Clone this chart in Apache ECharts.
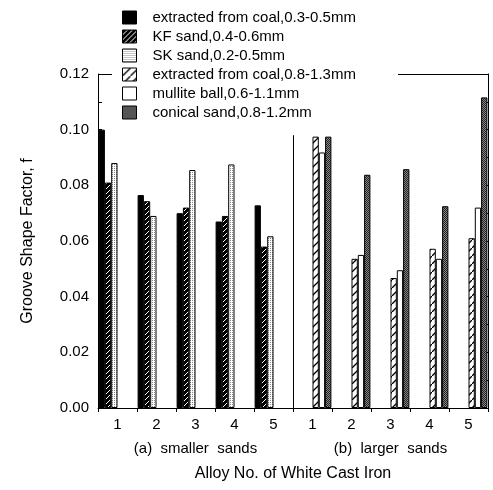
<!DOCTYPE html>
<html>
<head>
<meta charset="utf-8">
<script src="https://cdn.jsdelivr.net/npm/echarts@6/dist/echarts.min.js"></script>
<style>
  html, body { margin: 0; padding: 0; background: #fff; }
  #chart-container { width: 493px; height: 490px; }
</style>
</head>
<body>
<div id="chart-container"></div>
<script>
// categories: alloy no. 1-5 for each sand group
const alloyIds = ["a1", "a2", "a3", "a4", "a5", "b1", "b2", "b3", "b4", "b5"];
const tickLabels = ["1", "2", "3", "4", "5", "1", "2", "3", "4", "5"];
const groupLabels = ["(a)  smaller  sands", "(b)  larger  sands"];

// (a) smaller sands
const coalSmall = [0.1, 0.0765, 0.07, 0.067, 0.0728];
const kfSand = [0.081, 0.0743, 0.072, 0.069, 0.058];
const skSand = [0.088, 0.069, 0.0855, 0.0875, 0.0617];
// (b) larger sands
const coalLarge = [0.0975, 0.0536, 0.0467, 0.0572, 0.061];
const mulliteBall = [0.0918, 0.055, 0.0495, 0.0536, 0.072];
const conicalSand = [0.0975, 0.0838, 0.0858, 0.0725, 0.1116];

const seriesNames = [
  "extracted from coal,0.3-0.5mm",
  "KF sand,0.4-0.6mm",
  "SK sand,0.2-0.5mm",
  "extracted from coal,0.8-1.3mm",
  "mullite ball,0.6-1.1mm",
  "conical sand,0.8-1.2mm",
];

const FONT = "Liberation Sans";
const GRID = { left: 98, right: 5, top: 74, bottom: 82 };

function makePattern(size, draw) {
  const c = document.createElement("canvas");
  c.width = size;
  c.height = size;
  draw(c.getContext("2d"), size);
  return { image: c, repeat: "repeat" };
}

const solidBlack = "#000";
const darkHatch = makePattern(5, function (ctx, s) {
  ctx.fillStyle = "#000";
  ctx.fillRect(0, 0, s, s);
  ctx.strokeStyle = "#fff";
  ctx.lineWidth = 1;
  ctx.beginPath();
  ctx.moveTo(0, s);
  ctx.lineTo(s, 0);
  ctx.stroke();
});
const lightDots = makePattern(2, function (ctx, s) {
  ctx.fillStyle = "#fff";
  ctx.fillRect(0, 0, s, s);
  ctx.fillStyle = "#8a8a8a";
  ctx.fillRect(0, 0, 1, 1);
});
const whiteHatch = makePattern(8, function (ctx, s) {
  ctx.fillStyle = "#fff";
  ctx.fillRect(0, 0, s, s);
  ctx.strokeStyle = "#000";
  ctx.lineWidth = 1.3;
  ctx.beginPath();
  ctx.moveTo(0, s);
  ctx.lineTo(s, 0);
  ctx.stroke();
});
const darkDots = makePattern(2, function (ctx, s) {
  ctx.fillStyle = "#888";
  ctx.fillRect(0, 0, s, s);
  ctx.fillStyle = "#222";
  ctx.fillRect(0, 0, 1, 1);
  ctx.fillRect(1, 1, 1, 1);
});

const blanks = ["-", "-", "-", "-", "-"];

function barSeries(name, values, fill, left) {
  return {
    type: "bar",
    name: name,
    xAxisIndex: 0,
    yAxisIndex: 0,
    barWidth: 6.3,
    barGap: "0%",
    data: left ? values.concat(blanks) : blanks.concat(values),
    itemStyle: { color: fill, borderColor: "#000", borderWidth: 1 },
    emphasis: { disabled: true },
  };
}

var dom = document.getElementById("chart-container");
var myChart = echarts.init(dom, null, { renderer: "canvas" });

var option = {
  animation: false,
  textStyle: { fontFamily: FONT, color: "#000" },
  legend: {
    orient: "vertical",
    left: 122,
    top: 10,
    padding: 0,
    itemWidth: 14,
    itemHeight: 13,
    itemGap: 4,
    icon: "rect",
    itemStyle: { borderColor: "#000", borderWidth: 1 },
    textStyle: { fontFamily: FONT, fontSize: 15, color: "#000", padding: [0, 0, 0, 11] },
    data: seriesNames,
  },
  grid: [
    { left: GRID.left, right: GRID.right, top: GRID.top, bottom: GRID.bottom },
    { left: GRID.left, right: GRID.right, top: GRID.top, bottom: GRID.bottom },
  ],
  xAxis: [
    {
      type: "category",
      gridIndex: 0,
      data: alloyIds,
      axisLine: { lineStyle: { color: "#000", width: 1 } },
      axisTick: { show: true, length: 4, lineStyle: { color: "#000" } },
      axisLabel: {
        margin: 9,
        fontFamily: FONT,
        fontSize: 15,
        color: "#000",
        formatter: function (v, i) {
          return tickLabels[i];
        },
      },
      name: "Alloy No. of White Cast Iron",
      nameLocation: "middle",
      nameGap: 58,
      nameTextStyle: { fontFamily: FONT, fontSize: 16, color: "#000" },
    },
    {
      type: "category",
      gridIndex: 1,
      data: groupLabels,
      axisLine: { show: false },
      axisTick: { show: false },
      axisLabel: { margin: 33, fontFamily: FONT, fontSize: 15, color: "#000" },
    },
  ],
  yAxis: [
    {
      type: "value",
      gridIndex: 0,
      position: "left",
      min: 0,
      max: 0.12,
      interval: 0.01,
      splitLine: { show: false },
      axisLine: { show: true, lineStyle: { color: "#000", width: 1 } },
      axisTick: { show: true, inside: true, length: 4, lineStyle: { color: "#000" } },
      axisLabel: {
        margin: 9,
        fontFamily: FONT,
        fontSize: 15,
        color: "#000",
        formatter: function (v) {
          return Math.round(v * 100) % 2 === 0 ? v.toFixed(2) : "";
        },
      },
      name: "Groove Shape Factor, f",
      nameLocation: "middle",
      nameGap: 62,
      nameTextStyle: { fontFamily: FONT, fontSize: 16, color: "#000" },
    },
    {
      type: "value",
      gridIndex: 0,
      position: "right",
      min: 0,
      max: 0.12,
      interval: 0.01,
      splitLine: { show: false },
      axisLine: { show: true, lineStyle: { color: "#000", width: 1 } },
      axisTick: { show: true, inside: true, length: 4, lineStyle: { color: "#000" } },
      axisLabel: { show: false },
    },
    {
      type: "value",
      gridIndex: 1,
      show: false,
      min: 0,
      max: 0.12,
    },
  ],
  series: [
    barSeries(seriesNames[0], coalSmall, solidBlack, true),
    barSeries(seriesNames[1], kfSand, darkHatch, true),
    barSeries(seriesNames[2], skSand, lightDots, true),
    barSeries(seriesNames[3], coalLarge, whiteHatch, false),
    barSeries(seriesNames[4], mulliteBall, "#fff", false),
    barSeries(seriesNames[5], conicalSand, darkDots, false),
  ],
};

myChart.setOption(option);

// frame pieces and the divider between the two sand groups
const dividerTop = 0.098;
var xA = myChart.convertToPixel({ xAxisIndex: 0 }, 4);
var xB = myChart.convertToPixel({ xAxisIndex: 0 }, 5);
var xMid = Math.round((xA + xB) / 2) + 0.5;
var yZero = myChart.convertToPixel({ yAxisIndex: 0 }, 0);
var yDiv = myChart.convertToPixel({ yAxisIndex: 0 }, dividerTop);
var yMax = Math.round(myChart.convertToPixel({ yAxisIndex: 0 }, 0.12)) + 0.5;
var xLeft = GRID.left;
var xRight = 493 - GRID.right;

myChart.setOption({
  graphic: [
    { type: "line", shape: { x1: xMid, y1: yDiv, x2: xMid, y2: yZero }, style: { stroke: "#000", lineWidth: 1 } },
    { type: "line", shape: { x1: xLeft, y1: yMax, x2: xLeft + 14, y2: yMax }, style: { stroke: "#000", lineWidth: 1 } },
    { type: "line", shape: { x1: 398, y1: yMax, x2: xRight, y2: yMax }, style: { stroke: "#000", lineWidth: 1 } },
  ],
});

window.addEventListener("resize", myChart.resize);
</script>
</body>
</html>
